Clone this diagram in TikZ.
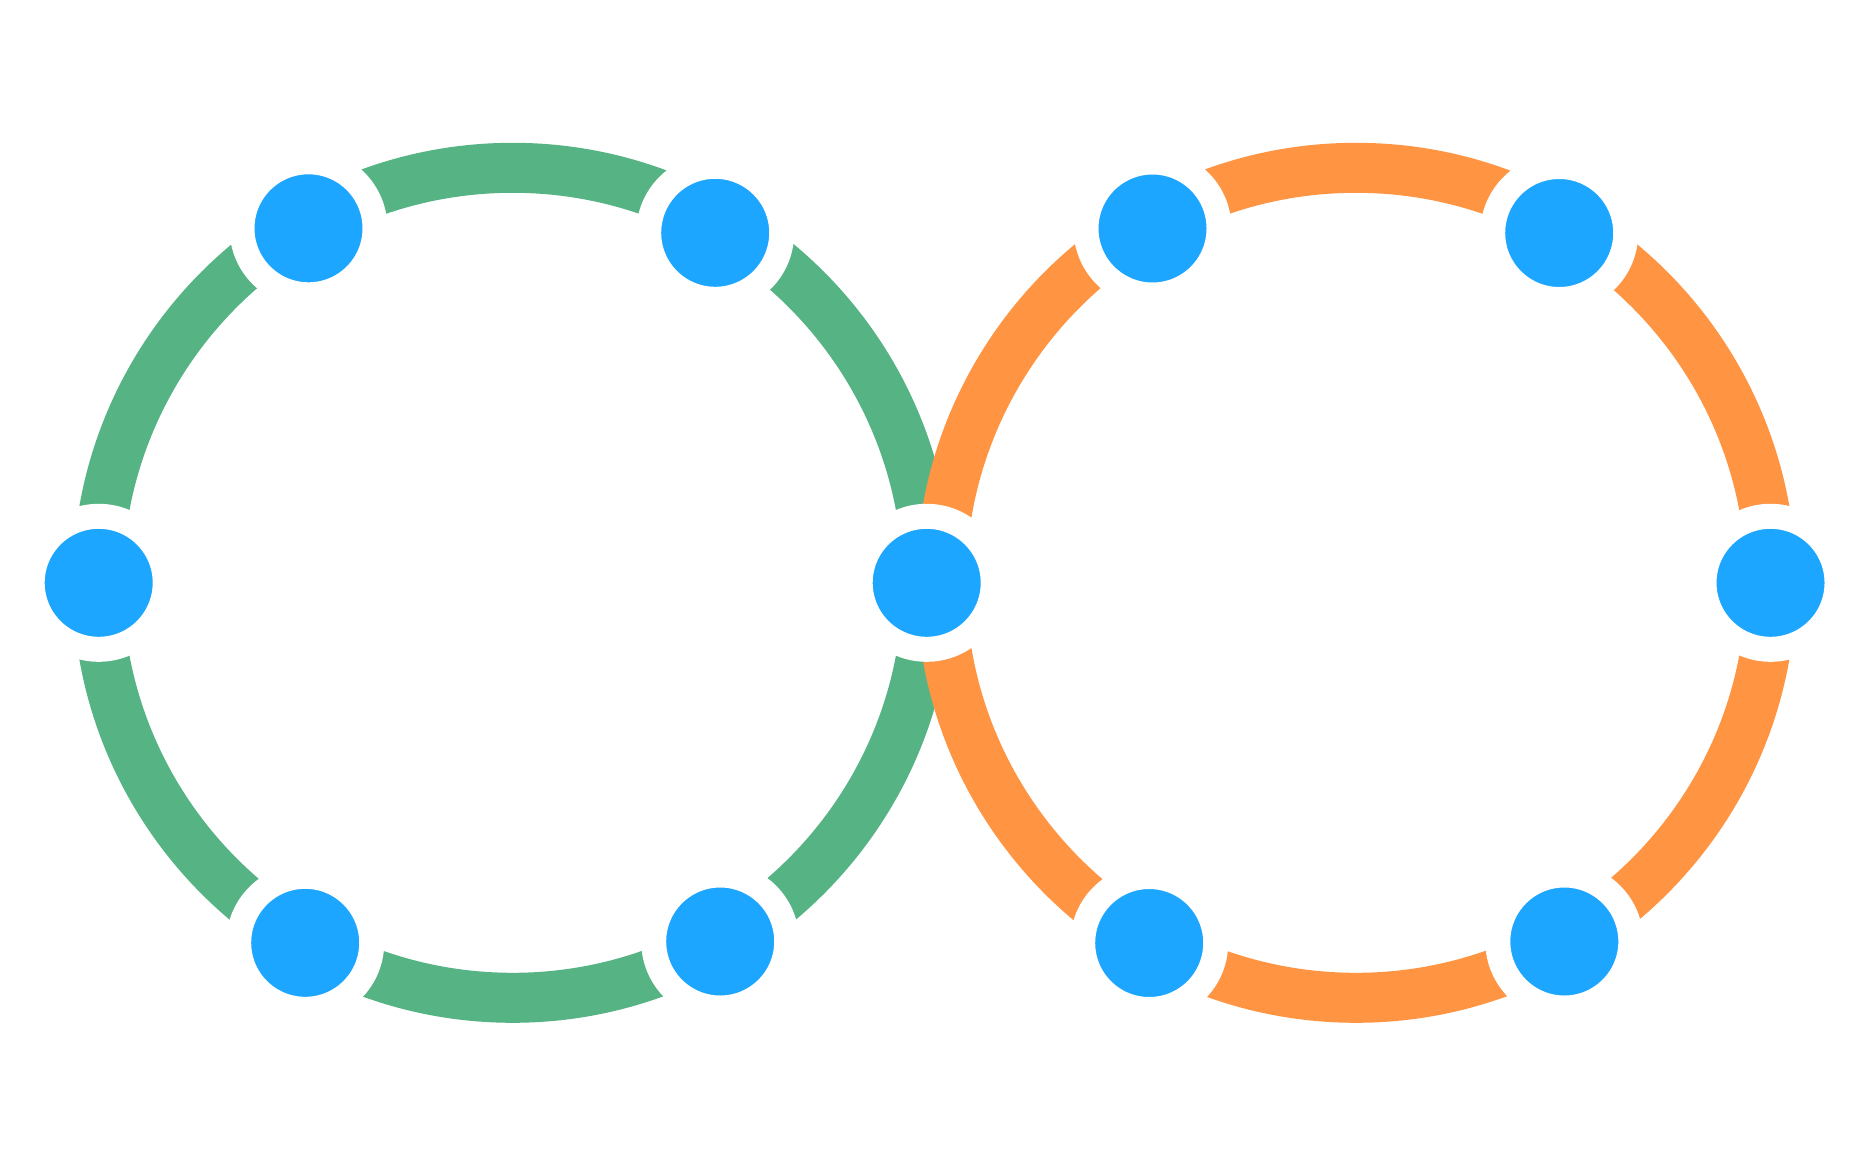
\documentclass[tikz,border=0pt]{standalone}
\definecolor{ringgreen}{HTML}{56B383}
\definecolor{ringorange}{HTML}{FF9442}
\definecolor{nodeblue}{HTML}{1CA6FF}
\tikzset{
  ringline/.style={line width=25pt},
  bluenode/.style={circle, fill=nodeblue, draw=white, line width=12.5pt, minimum size=66.5pt, inner sep=0pt}
}
\begin{document}
\begin{tikzpicture}[x=0.5pt,y=-0.5pt]
\useasboundingbox (0,0) rectangle (1866,1166);
\fill[white] (0,0) rectangle (1866,1166);
% rings
\coordinate (cl) at (512.7,582.8);
\coordinate (cr) at (1356,582.8);
\draw[ringline, ringgreen] (cl) circle[radius=415];
\draw[ringline, ringorange] (cr) circle[radius=415];
% nodes on the left ring
\node[bluenode] (l1) at (98.7,582.8) {};
\node[bluenode] (l2) at (308.5,228.3) {};
\node[bluenode] (l3) at (715.2,232.8) {};
\node[bluenode] (l4) at (305.2,942.8) {};
\node[bluenode] (l5) at (720.2,941.5) {};
% shared node
\node[bluenode] (m) at (926.7,582.8) {};
% nodes on the right ring
\node[bluenode] (r1) at (1152.5,228.5) {};
\node[bluenode] (r2) at (1559.2,233) {};
\node[bluenode] (r3) at (1770.5,582.8) {};
\node[bluenode] (r4) at (1149.2,943) {};
\node[bluenode] (r5) at (1564.3,941.5) {};
\end{tikzpicture}
\end{document}
